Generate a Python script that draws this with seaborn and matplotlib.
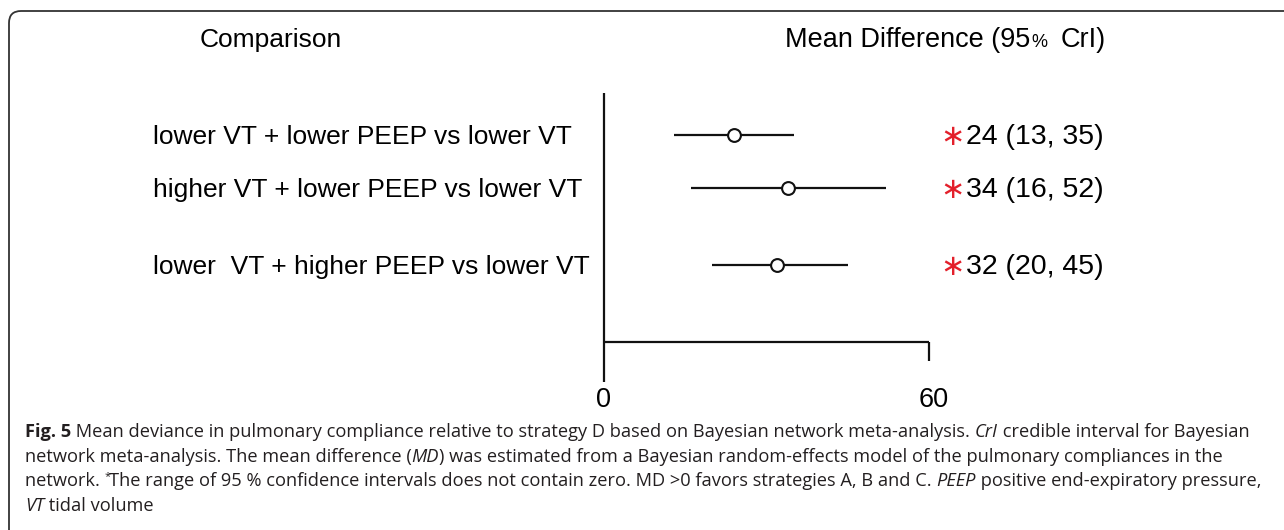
import matplotlib
matplotlib.use("Agg")
import matplotlib.pyplot as plt
import matplotlib.transforms as mtransforms
from matplotlib.patches import FancyBboxPatch
import seaborn as sns

# Data
comparisons = [
    "lower VT + lower PEEP vs lower VT",
    "higher VT + lower PEEP vs lower VT",
    "lower  VT + higher PEEP vs lower VT",
]
md = [24, 34, 32]
ci_low = [13, 16, 20]
ci_high = [35, 52, 45]
x_ticks = [0, 60]

# Layout (pixels from the top of the picture)
W, H = 1284, 530
row_y = [135, 188, 265]

sns.set_style("white")
plt.rcParams["font.family"] = ["Liberation Sans", "DejaVu Sans"]
plt.rcParams["text.color"] = "black"

fig = plt.figure(figsize=(W / 100, H / 100), dpi=100)
renderer = fig.canvas.get_renderer()


def fx(px):
    return px / W


def fy(py):
    return 1 - py / H


# Axes: x in data units (0 at px 604, 60 at px 929), y in pixels
k = (929 - 604) / 60
ax = fig.add_axes([0, 0, 1, 1])
ax.set_xlim(-604 / k, (W - 604) / k)
ax.set_ylim(H, 0)
ax.set_axis_off()

# Reference line and the x axis
ax.vlines(0, 93, 382, color="#111111", lw=1.6)
ax.hlines(342, x_ticks[0], x_ticks[1], color="#111111", lw=1.6)
ax.vlines(x_ticks[1], 342, 361, color="#111111", lw=1.6)
for t in x_ticks:
    ax.text(t + (0 if t == 0 else 0.8), 407, str(t), ha="center", va="baseline",
            fontsize=19.5)

# Credible intervals and point estimates
ax.hlines(row_y, ci_low, ci_high, color="#111111", lw=1.6, zorder=2)
sns.scatterplot(x=md, y=row_y, ax=ax, marker="o", s=85, facecolor="white",
                edgecolor="#111111", linewidth=1.5, zorder=3, legend=False)

# Headers
fig.text(fx(200), fy(47), "Comparison", fontsize=19, va="baseline")
hx = 785
t = fig.text(fx(hx), fy(47), "Mean Difference (95", fontsize=19.5, va="baseline")
hx += t.get_window_extent(renderer).width + 1
t = fig.text(fx(hx), fy(47), "%", fontsize=13, va="baseline")
hx += t.get_window_extent(renderer).width + 13
fig.text(fx(hx), fy(47), "CrI)", fontsize=19.5, va="baseline")

# Row labels and estimates
for label, m, lo, hi, y in zip(comparisons, md, ci_low, ci_high, row_y):
    fig.text(fx(153), fy(y + 9), label, fontsize=19, va="baseline")
    fig.text(fx(965), fy(y + 10), "\u2217", fontsize=21, va="baseline", ha="right",
             color="#e3202b", family=["DejaVu Sans"])
    fig.text(fx(966), fy(y + 9), f"{m} ({lo}, {hi})", fontsize=20.5, va="baseline")

# Frame with rounded corner
fig.add_artist(FancyBboxPatch((9, -40), 1400, H - 11 + 40,
                              boxstyle="round,pad=0,rounding_size=12",
                              transform=mtransforms.IdentityTransform(),
                              fill=False, ec="#333333", lw=1.3))

# Caption, drawn run by run so bold / italic parts follow on
cap_font = ["Open Sans", "DejaVu Sans"]
cap_size = 13.15


def text_width(s, **kw):
    a = fig.text(0, 0, "|" + s + "|", fontsize=cap_size, family=cap_font, **kw)
    b = fig.text(0, 0, "||", fontsize=cap_size, family=cap_font, **kw)
    w = a.get_window_extent(renderer).width - b.get_window_extent(renderer).width
    a.remove()
    b.remove()
    return w


def caption_line(y, runs):
    x = 25
    for s, kw in runs:
        dy = 0
        size = cap_size
        if kw.get("sup"):
            kw = {}
            dy = -7
            size = 8
        fig.text(fx(x), fy(y + dy), s, fontsize=size, family=cap_font,
                 va="baseline", color="#231f20", **kw)
        if size == cap_size:
            x += text_width(s, **kw)
        else:
            x += 4


B = {"fontweight": "bold"}
I = {"style": "italic"}
N = {}
caption_line(437, [("Fig. 5", B),
                   (" Mean deviance in pulmonary compliance relative to strategy D based on "
                    "Bayesian network meta-analysis. ", N),
                   ("CrI", I), (" credible interval for Bayesian", N)])
caption_line(462, [("network meta-analysis. The mean difference (", N), ("MD", I),
                   (") was estimated from a Bayesian random-effects model of the pulmonary "
                    "compliances in the", N)])
caption_line(486, [("network. ", N), ("*", {"sup": True}),
                   ("The range of 95 % confidence intervals does not contain zero. MD >0 "
                    "favors strategies A, B and C. ", N),
                   ("PEEP", I), (" positive end-expiratory pressure,", N)])
caption_line(511, [("VT", I), (" tidal volume", N)])

fig.savefig("out.png", dpi=100)
